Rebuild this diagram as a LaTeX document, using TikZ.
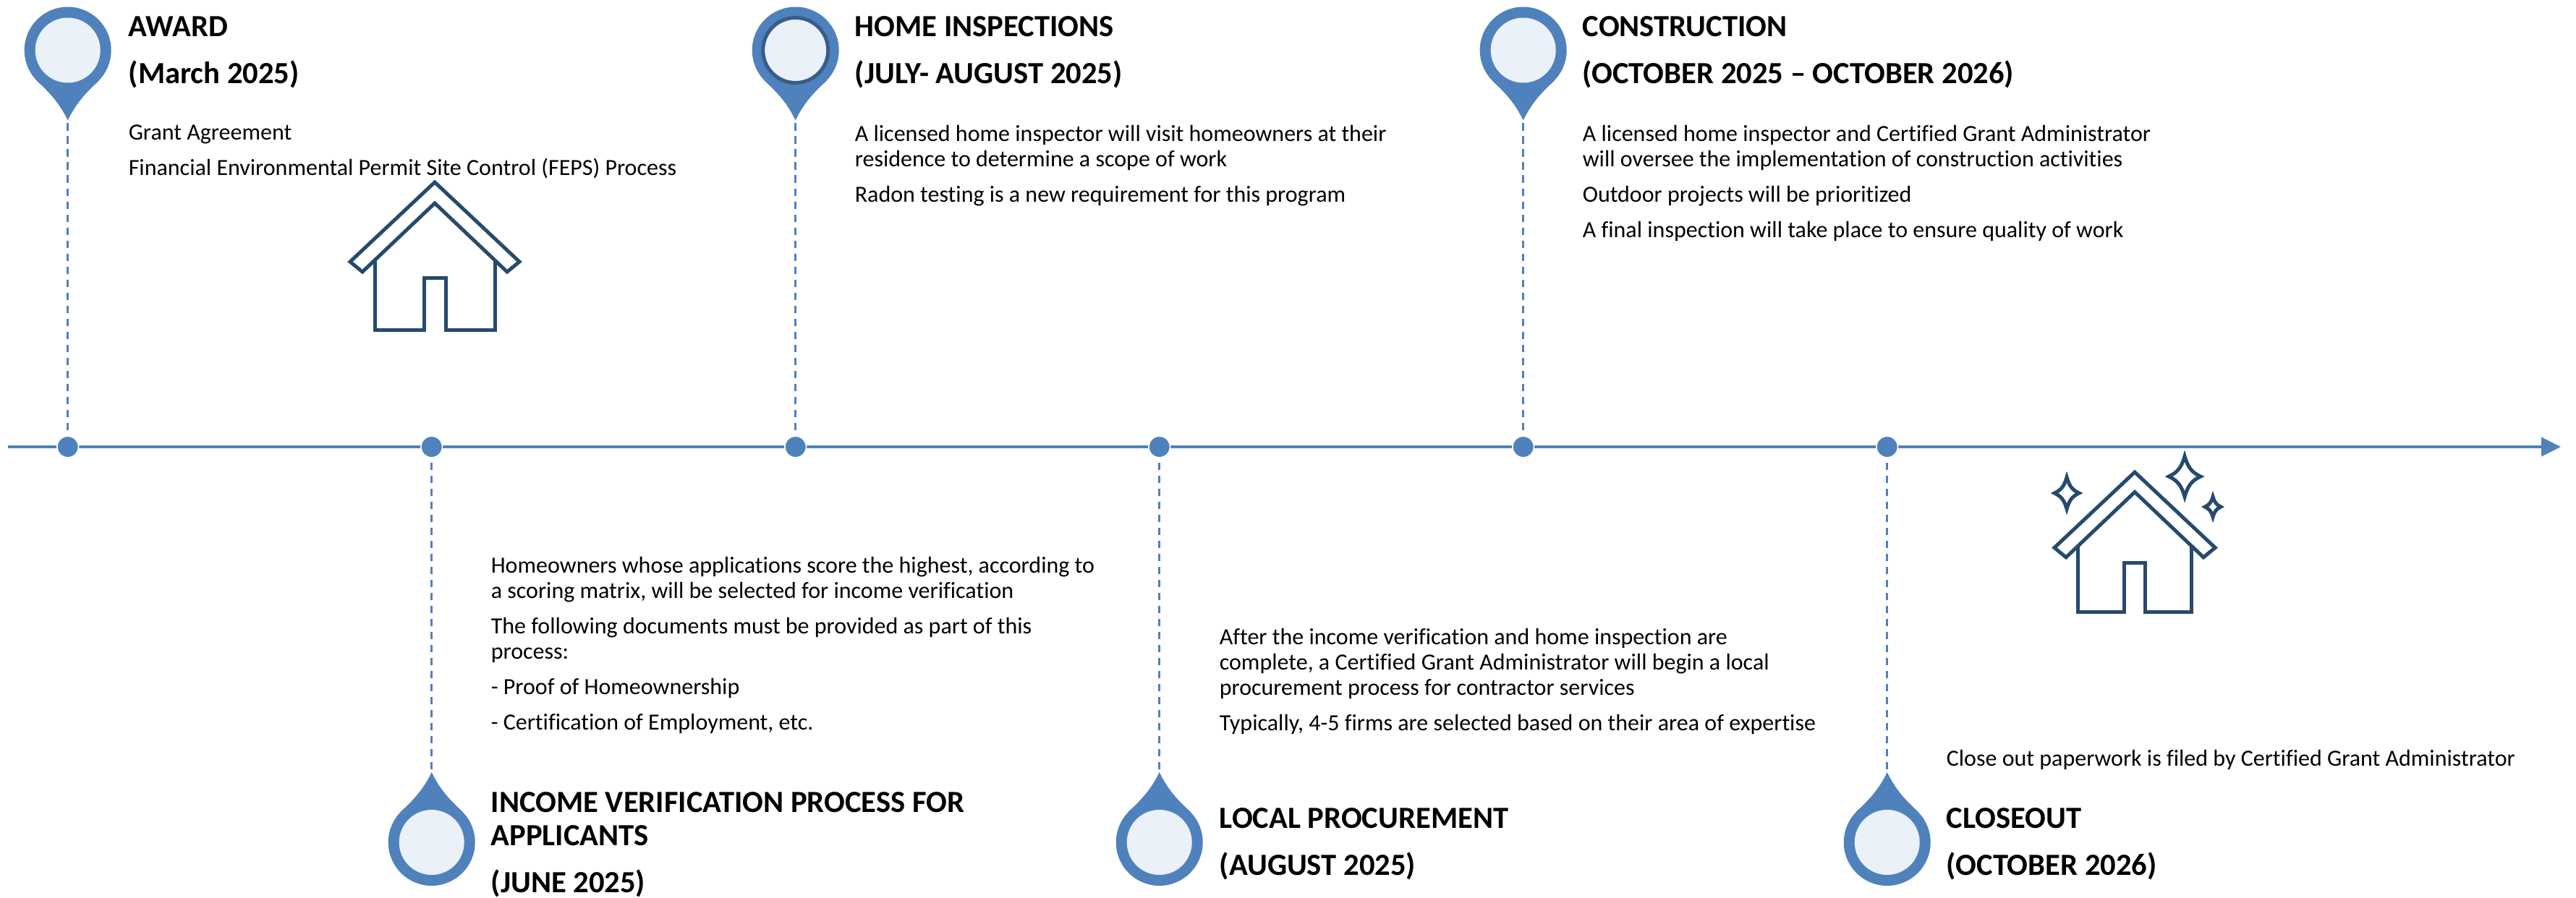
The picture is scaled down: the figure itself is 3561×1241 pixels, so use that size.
\documentclass[tikz,border=0pt]{standalone}
\usepackage{fontspec}
\setmainfont{Carlito}[Ligatures=CommonOff]
\usepackage{tikz}
\usetikzlibrary{positioning}
\usetikzlibrary{arrows.meta}

\definecolor{pinblue}{HTML}{4F81BD}
\definecolor{pinpale}{HTML}{EBF1F9}
\definecolor{pinring}{HTML}{385D8A}
\definecolor{housenavy}{HTML}{264A6E}

\tikzset{
  axisline/.style={draw=pinblue, line width=1pt, -{Triangle[length=6.75pt,width=6.5pt]}},
  axisdot/.style={circle, fill=pinblue, draw=white, line width=0.4pt, minimum size=7.4pt, inner sep=0pt},
  leader/.style={draw=pinblue, line width=0.7pt, dash pattern=on 2.6pt off 1.9pt, shorten <=1pt},
  head/.style={font=\fontsize{10.65}{12.6}\selectfont\bfseries, anchor=base west, inner sep=0pt, text=black},
  copy/.style={font=\fontsize{8}{8.75}\selectfont, anchor=north west, inner sep=0pt, align=left, execute at begin node=\strut},
  houseline/.style={draw=housenavy, line width=1.25pt, miter limit=10},
  pics/pin/.style={code={
      \fill[pinblue] (0,0) circle[radius=60];
      \fill[pinblue] (0,97) .. controls (-12,72) and (-26,58) .. (-43,42) -- (43,42) .. controls (26,58) and (12,72) .. (0,97) -- cycle;
      \path[fill=pinpale, pic actions] (0,0) circle[radius=45];
      \coordinate (-tip) at (0,97);
  }},
  pics/house/.style={code={
      \draw[houseline] (0,0) -- (117,110) -- (100,124) -- (0,29) -- (-100,124) -- (-117,110) -- cycle;
      \draw[houseline] (-83,108) -- (-83,204) -- (-15,204) -- (-15,132) -- (15,132) -- (15,204) -- (83,204) -- (83,108);
  }},
  pics/sparkle/.style 2 args={code={
      \draw[houseline] (0,-#2) .. controls (0.2*#1,-0.45*#2) and (0.45*#1,-0.2*#2) .. (#1,0)
        .. controls (0.45*#1,0.2*#2) and (0.2*#1,0.45*#2) .. (0,#2)
        .. controls (-0.2*#1,0.45*#2) and (-0.45*#1,0.2*#2) .. (-#1,0)
        .. controls (-0.45*#1,-0.2*#2) and (-0.2*#1,-0.45*#2) .. (0,-#2) -- cycle;
  }}
}

\begin{document}
\begin{tikzpicture}[x=0.25pt, y=-0.25pt, on grid, node distance=125.75pt]

      \useasboundingbox (0,0) rectangle (3561,1241);

      \coordinate (axisstart) at (11,618);
      \coordinate (axisend) at (3540,618);
      \draw[axisline] (axisstart) -- (axisend);

      \node[axisdot] (d0) at (93.7,618) {};
      \node[axisdot] (d1) [right=of d0] {};
      \node[axisdot] (d2) [right=of d1] {};
      \node[axisdot] (d3) [right=of d2] {};
      \node[axisdot] (d4) [right=of d3] {};
      \node[axisdot] (d5) [right=of d4] {};

      \pic (pin0) at (93.7,69.5) {pin};
      \pic[yscale=-1] (pin1) at (596.7,1165) {pin};
      \pic[draw=pinring, line width=1.25pt] (pin2) at (1099.7,69.5) {pin};
      \pic[yscale=-1] (pin3) at (1602.7,1165) {pin};
      \pic (pin4) at (2105.7,69.5) {pin};
      \pic[yscale=-1] (pin5) at (2608.7,1165) {pin};

      \path[leader]
        (pin0-tip) edge [] (d0)
        (pin1-tip) edge [] (d1)
        (pin2-tip) edge [] (d2)
        (pin3-tip) edge [] (d3)
        (pin4-tip) edge [] (d4)
        (pin5-tip) edge [] (d5)
        ;

      % upper row
      \node[head] (award) at (177,51) {AWARD};
      \node[head] (awarddate) at ([yshift=-16.25pt]award.base west) {(March 2025)};
      \node[copy] (awardtext) at (177,172) {Grant Agreement\\[3.5pt]
        Financial Environmental Permit Site Control (FEPS) Process};

      \node[head] (inspect) at (1181,51) {HOME INSPECTIONS};
      \node[head] (inspectdate) at ([yshift=-16.25pt]inspect.base west) {(JULY- AUGUST 2025)};
      \node[copy] (inspecttext) at (1181,172) {A licensed home inspector will visit homeowners at their\\
        residence to determine a scope of work\\[3.5pt]
        Radon testing is a new requirement for this program};

      \node[head] (build) at (2187,51) {CONSTRUCTION};
      \node[head] (builddate) at ([yshift=-16.25pt]build.base west) {(OCTOBER 2025 – OCTOBER 2026)};
      \node[copy] (buildtext) at (2187,172) {A licensed home inspector and Certified Grant Administrator\\
        will oversee the implementation of construction activities\\[3.5pt]
        Outdoor projects will be prioritized\\[3.5pt]
        A final inspection will take place to ensure quality of work};

      % lower row
      \node[head] (income) at (678,1123) {INCOME VERIFICATION PROCESS FOR};
      \node[head] (applicants) at ([yshift=-11.5pt]income.base west) {APPLICANTS};
      \node[head] (incomedate) at ([yshift=-16.25pt]applicants.base west) {(JUNE 2025)};
      \node[copy] (incometext) at (678,769) {Homeowners whose applications score the highest, according to\\
        a scoring matrix, will be selected for income verification\\[3.5pt]
        The following documents must be provided as part of this\\
        process:\\[3.5pt]
        - Proof of Homeownership\\[3.5pt]
        - Certification of Employment, etc.};

      \node[head] (local) at (1685,1145) {LOCAL PROCUREMENT};
      \node[head] (localdate) at ([yshift=-16.25pt]local.base west) {(AUGUST 2025)};
      \node[copy] (localtext) at (1685,868) {After the income verification and home inspection are\\
        complete, a Certified Grant Administrator will begin a local\\
        procurement process for contractor services\\[3.5pt]
        Typically, 4-5 firms are selected based on their area of expertise};

      \node[head] (closeout) at (2690,1145) {CLOSEOUT};
      \node[head] (closedate) at ([yshift=-16.25pt]closeout.base west) {(OCTOBER 2026)};
      \node[copy] (closetext) at (2690,1034) {Close out paperwork is filed by Certified Grant Administrator};

      % houses
      \pic (house0) at (601,252) {house};
      \pic[scale=0.95] (house1) at (2951,653) {house};
      \pic (spark0) at (3020,659) {sparkle={22}{28}};
      \pic (spark1) at (2857,682) {sparkle={17}{22}};
      \pic (spark2) at (3059,701) {sparkle={11}{14}};

\end{tikzpicture}
\end{document}
